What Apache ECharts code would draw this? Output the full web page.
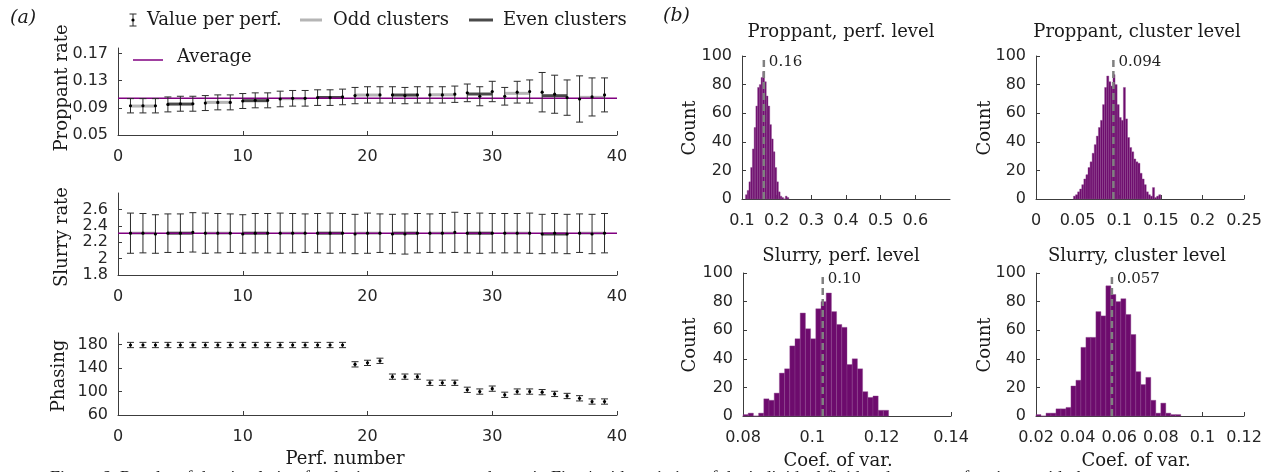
<!DOCTYPE html>
<html>
<head>
<meta charset="utf-8">
<script src="https://cdn.jsdelivr.net/npm/echarts@6/dist/echarts.min.js"></script>
<style>
  html, body { margin: 0; padding: 0; background: #fff; }
  #chart { width: 1268px; height: 472px; }
</style>
</head>
<body>
<div id="chart"></div>
<script>
// ---- (a) per-perforation values ----
const perfs = [1, 2, 3, 4, 5, 6, 7, 8, 9, 10, 11, 12, 13, 14, 15, 16, 17, 18, 19, 20,
  21, 22, 23, 24, 25, 26, 27, 28, 29, 30, 31, 32, 33, 34, 35, 36, 37, 38, 39];

const propVal = [0.093, 0.093, 0.093, 0.095, 0.096, 0.096, 0.097, 0.098, 0.098, 0.100,
  0.101, 0.101, 0.103, 0.104, 0.104, 0.105, 0.105, 0.106, 0.108, 0.109,
  0.109, 0.109, 0.108, 0.109, 0.109, 0.109, 0.110, 0.112, 0.107, 0.114,
  0.107, 0.113, 0.114, 0.113, 0.110, 0.105, 0.103, 0.106, 0.109];
const propErr = [0.0105, 0.0105, 0.0105, 0.011, 0.011, 0.011, 0.011, 0.011, 0.011, 0.011,
  0.011, 0.011, 0.0115, 0.0115, 0.0115, 0.0115, 0.0115, 0.0115, 0.012, 0.012,
  0.012, 0.012, 0.012, 0.012, 0.012, 0.012, 0.012, 0.013, 0.014, 0.015,
  0.013, 0.016, 0.017, 0.029, 0.028, 0.026, 0.034, 0.028, 0.025];
const propAvg = 0.104;

const slurryVal = [2.31, 2.31, 2.30, 2.31, 2.31, 2.32, 2.31, 2.31, 2.31, 2.30,
  2.31, 2.31, 2.31, 2.31, 2.31, 2.31, 2.31, 2.31, 2.30, 2.31,
  2.31, 2.30, 2.30, 2.31, 2.31, 2.31, 2.32, 2.31, 2.31, 2.31,
  2.31, 2.31, 2.31, 2.30, 2.31, 2.30, 2.31, 2.30, 2.31];
const slurryErr = [0.245, 0.24, 0.235, 0.235, 0.235, 0.24, 0.245, 0.24, 0.235, 0.235,
  0.24, 0.24, 0.245, 0.24, 0.235, 0.24, 0.245, 0.24, 0.24, 0.245,
  0.235, 0.24, 0.245, 0.24, 0.235, 0.24, 0.245, 0.24, 0.245, 0.24,
  0.24, 0.24, 0.245, 0.24, 0.24, 0.24, 0.235, 0.24, 0.24];
const slurryAvg = 2.31;

const phaseVal = [179.5, 179.5, 179.5, 179.5, 179.5, 179.5, 179.5, 179.5, 179.5, 179.5,
  179.5, 179.5, 179.5, 179.5, 179.5, 179.5, 179.5, 179.5, 146.5, 149,
  152.5, 125.5, 125.5, 125.5, 115, 115, 115, 103, 100, 105,
  94.5, 100, 100, 99, 96, 92.5, 88.5, 83, 83];
const phaseErr = [4.5, 4.5, 4.5, 4.5, 4.5, 4.5, 4.5, 4.5, 4.5, 4.5,
  4.5, 4.5, 4.5, 4.5, 4.5, 4.5, 4.5, 4.5, 4.5, 4.5,
  4.5, 4.5, 4.5, 4.5, 4.5, 4.5, 4.5, 4.5, 4.5, 4.5,
  4.5, 4.5, 4.5, 4.5, 4.5, 4.5, 4.5, 4.5, 4.5];

// clusters of three perforations
const clusterStart = [1, 4, 7, 10, 13, 16, 19, 22, 25, 28, 31, 34, 37];
const clusterEnd = [3, 6, 9, 12, 15, 18, 21, 24, 27, 30, 33, 36, 39];
const propCluster = [0.0926, 0.0955, 0.098, 0.1005, 0.1035, 0.1052, 0.1088, 0.1088, 0.1092, 0.1103, 0.1113, 0.1078, 0.1054];
const slurryCluster = [2.31, 2.31, 2.31, 2.31, 2.31, 2.31, 2.31, 2.31, 2.31, 2.31, 2.31, 2.30, 2.31];

const propTicks = [0.05, 0.09, 0.13, 0.17];
const slurryTicks = [1.8, 2, 2.2, 2.4, 2.6];
const phaseTicks = [60, 100, 140, 180];

// ---- (b) histograms of coef. of variation ----
const hist1Start = 0.110, hist1Width = 0.005;
const hist1Counts = [3, 6, 12, 22, 35, 50, 65, 78, 80, 85, 89, 82, 72, 65, 52, 42, 33, 22, 12, 5, 2, 1, 0, 2, 1];
const hist2Start = 0.045, hist2Width = 0.0025;
const hist2Counts = [2, 3, 5, 7, 10, 14, 17, 22, 26, 32, 38, 44, 50, 55, 66, 78, 86, 82, 79, 87,
  80, 66, 57, 55, 78, 56, 43, 36, 33, 28, 26, 25, 18, 14, 10, 5, 3, 2, 8, 1, 2, 3];
const hist3Start = 0.080, hist3Width = 0.0015;
const hist3Counts = [1, 2, 0, 2, 12, 11, 16, 30, 33, 49, 54, 72, 61, 54, 75, 80, 86,
  73, 64, 62, 36, 40, 33, 17, 13, 14, 4, 4];
const hist4Start = 0.020, hist4Width = 0.0024;
const hist4Counts = [1, 0, 2, 2, 5, 5, 6, 21, 25, 48, 55, 55, 73, 70, 91, 85, 80, 82, 71, 57,
  31, 22, 27, 11, 2, 9, 2, 1, 1];
const histMeans = [0.163, 0.093, 0.103, 0.0565];
const histMeanLabels = ['0.16', '0.094', '0.10', '0.057'];
const histTitles = ['Proppant, perf. level', 'Proppant, cluster level', 'Slurry, perf. level', 'Slurry, cluster level'];

const SERIF = '"DejaVu Serif", serif';
const SANS = '"DejaVu Sans", sans-serif';
const AXIS_COLOR = '#3c3c3c';
const PURPLE = '#800080';
const BAR_PURPLE = '#6d0b6d';
const TXT = '18px ' + SERIF;

function errorBarItem(params, api) {
  const x = api.value(0);
  const hi = api.coord([x, api.value(2)]);
  const lo = api.coord([x, api.value(3)]);
  const mid = api.coord([x, api.value(1)]);
  const cap = 3.5;
  const st = { stroke: '#2b2b2b', lineWidth: 1 };
  return {
    type: 'group',
    children: [
      { type: 'line', shape: { x1: hi[0], y1: hi[1], x2: lo[0], y2: lo[1] }, style: st },
      { type: 'line', shape: { x1: hi[0] - cap, y1: hi[1], x2: hi[0] + cap, y2: hi[1] }, style: st },
      { type: 'line', shape: { x1: lo[0] - cap, y1: lo[1], x2: lo[0] + cap, y2: lo[1] }, style: st },
      { type: 'circle', shape: { cx: mid[0], cy: mid[1], r: 1.6 }, style: { fill: '#000' } }
    ]
  };
}

function clusterItem(params, api) {
  const a = api.coord([api.value(0), api.value(2)]);
  const b = api.coord([api.value(1), api.value(2)]);
  return {
    type: 'line',
    shape: { x1: a[0], y1: a[1], x2: b[0], y2: b[1] },
    style: { stroke: api.value(3) ? '#4a4a4a' : '#b5b5b5', lineWidth: 3 }
  };
}

function histItem(params, api) {
  const p0 = api.coord([api.value(0), api.value(2)]);
  const p1 = api.coord([api.value(1), 0]);
  return {
    type: 'rect',
    shape: { x: p0[0], y: p0[1], width: p1[0] - p0[0], height: p1[1] - p0[1] },
    style: { fill: BAR_PURPLE, stroke: '#8f4a8f', lineWidth: 0.4 }
  };
}

function meanLineItem(label) {
  return function (params, api) {
    const p0 = api.coord([api.value(0), 0]);
    const p1 = api.coord([api.value(0), 100]);
    return {
      type: 'group',
      children: [
        { type: 'line', shape: { x1: p0[0], y1: p0[1], x2: p1[0], y2: p1[1] },
          style: { stroke: '#808080', lineWidth: 2.5, lineDash: [7, 4] } },
        { type: 'text', x: p1[0] + 5, y: p1[1] + 6,
          style: { text: label, font: '15px ' + SERIF, fill: '#222',
                   textAlign: 'left', textVerticalAlign: 'middle', align: 'left', verticalAlign: 'middle' } }
      ]
    };
  };
}

function errData(vals, errs) {
  return perfs.map((p, i) => [p, vals[i], vals[i] + errs[i], vals[i] - errs[i]]);
}
function clusterData(vals) {
  return clusterStart.map((s, i) => [s, clusterEnd[i], vals[i], i % 2]);
}
function histData(start, width, counts) {
  return counts.map((c, i) => [start + i * width, start + (i + 1) * width, c]);
}

function xAxisOf(gridIndex, min, max, interval, extraLabel) {
  return {
    type: 'value', gridIndex: gridIndex, min: min, max: max, interval: interval,
    splitLine: { show: false },
    axisLine: { show: true, onZero: false, lineStyle: { color: AXIS_COLOR, width: 1 } },
    axisTick: { show: true, inside: true, length: 4, lineStyle: { color: AXIS_COLOR } },
    axisLabel: Object.assign({ fontFamily: SANS, fontSize: 16, color: '#262626', margin: 14 }, extraLabel || {})
  };
}
function yAxisOf(gridIndex, min, max, ticks, interval) {
  const ax = {
    type: 'value', gridIndex: gridIndex, min: min, max: max,
    splitLine: { show: false },
    axisLine: { show: true, onZero: false, lineStyle: { color: AXIS_COLOR, width: 1 } },
    axisTick: { show: true, inside: true, length: 4, lineStyle: { color: AXIS_COLOR } },
    axisLabel: { fontFamily: SANS, fontSize: 16, color: '#262626', margin: 10 }
  };
  if (ticks) {
    ax.axisLabel.customValues = ticks;
    ax.axisTick.customValues = ticks;
  } else {
    ax.interval = interval;
  }
  return ax;
}

function txt(x, y, text, font, extra) {
  return Object.assign({
    type: 'text', x: x, y: y, silent: true,
    style: { text: text, font: font, fill: '#1a1a1a',
             textAlign: 'center', textVerticalAlign: 'middle', align: 'center', verticalAlign: 'middle' }
  }, extra || {});
}
function rtxt(x, y, text) {
  return txt(x, y, text, TXT, { rotation: Math.PI / 2 });
}
function ltxt(x, y, text, font) {
  const t = txt(x, y, text, font);
  t.style.textAlign = 'left';
  t.style.align = 'left';
  return t;
}
function seg(x1, y1, x2, y2, color, w) {
  return { type: 'line', silent: true, shape: { x1: x1, y1: y1, x2: x2, y2: y2 }, style: { stroke: color, lineWidth: w } };
}

const chart = echarts.init(document.getElementById('chart'));

const option = {
  animation: false,
  backgroundColor: '#fff',
  grid: [
    { left: 118, top: 48, width: 499, height: 87 },
    { left: 118, top: 193, width: 499, height: 82 },
    { left: 118, top: 333, width: 499, height: 82 },
    { left: 742, top: 56, width: 208, height: 143 },
    { left: 1036, top: 56, width: 208, height: 143 },
    { left: 743, top: 273, width: 208, height: 143 },
    { left: 1036, top: 273, width: 208, height: 143 }
  ],
  xAxis: [
    xAxisOf(0, 0, 40, 10),
    xAxisOf(1, 0, 40, 10),
    xAxisOf(2, 0, 40, 10),
    xAxisOf(3, 0.1, 0.7, 0.1, { showMaxLabel: false }),
    xAxisOf(4, 0, 0.25, 0.05),
    xAxisOf(5, 0.08, 0.14, 0.02),
    xAxisOf(6, 0.02, 0.12, 0.02)
  ],
  yAxis: [
    yAxisOf(0, 0.05, 0.178, propTicks),
    yAxisOf(1, 1.8, 2.8, slurryTicks),
    yAxisOf(2, 60, 200, phaseTicks),
    yAxisOf(3, 0, 100, null, 20),
    yAxisOf(4, 0, 100, null, 20),
    yAxisOf(5, 0, 100, null, 20),
    yAxisOf(6, 0, 100, null, 20)
  ],
  series: [
    { type: 'custom', xAxisIndex: 0, yAxisIndex: 0, renderItem: clusterItem,
      encode: { x: [0, 1], y: 2 }, data: clusterData(propCluster), z: 2 },
    { type: 'custom', xAxisIndex: 1, yAxisIndex: 1, renderItem: clusterItem,
      encode: { x: [0, 1], y: 2 }, data: clusterData(slurryCluster), z: 2 },
    { type: 'line', xAxisIndex: 0, yAxisIndex: 0, symbol: 'none', z: 3,
      lineStyle: { color: PURPLE, width: 1.5 }, data: [[0, propAvg], [40, propAvg]] },
    { type: 'line', xAxisIndex: 1, yAxisIndex: 1, symbol: 'none', z: 3,
      lineStyle: { color: PURPLE, width: 1.5 }, data: [[0, slurryAvg], [40, slurryAvg]] },
    { type: 'custom', xAxisIndex: 0, yAxisIndex: 0, renderItem: errorBarItem,
      encode: { x: 0, y: [1, 2, 3] }, data: errData(propVal, propErr), z: 4 },
    { type: 'custom', xAxisIndex: 1, yAxisIndex: 1, renderItem: errorBarItem,
      encode: { x: 0, y: [1, 2, 3] }, data: errData(slurryVal, slurryErr), z: 4 },
    { type: 'custom', xAxisIndex: 2, yAxisIndex: 2, renderItem: errorBarItem,
      encode: { x: 0, y: [1, 2, 3] }, data: errData(phaseVal, phaseErr), z: 4 },

    { type: 'custom', xAxisIndex: 3, yAxisIndex: 3, renderItem: histItem,
      encode: { x: [0, 1], y: 2 }, data: histData(hist1Start, hist1Width, hist1Counts) },
    { type: 'custom', xAxisIndex: 4, yAxisIndex: 4, renderItem: histItem,
      encode: { x: [0, 1], y: 2 }, data: histData(hist2Start, hist2Width, hist2Counts) },
    { type: 'custom', xAxisIndex: 5, yAxisIndex: 5, renderItem: histItem,
      encode: { x: [0, 1], y: 2 }, data: histData(hist3Start, hist3Width, hist3Counts) },
    { type: 'custom', xAxisIndex: 6, yAxisIndex: 6, renderItem: histItem,
      encode: { x: [0, 1], y: 2 }, data: histData(hist4Start, hist4Width, hist4Counts) },

    { type: 'custom', xAxisIndex: 3, yAxisIndex: 3, renderItem: meanLineItem(histMeanLabels[0]),
      encode: { x: 0 }, data: [[histMeans[0]]], z: 5 },
    { type: 'custom', xAxisIndex: 4, yAxisIndex: 4, renderItem: meanLineItem(histMeanLabels[1]),
      encode: { x: 0 }, data: [[histMeans[1]]], z: 5 },
    { type: 'custom', xAxisIndex: 5, yAxisIndex: 5, renderItem: meanLineItem(histMeanLabels[2]),
      encode: { x: 0 }, data: [[histMeans[2]]], z: 5 },
    { type: 'custom', xAxisIndex: 6, yAxisIndex: 6, renderItem: meanLineItem(histMeanLabels[3]),
      encode: { x: 0 }, data: [[histMeans[3]]], z: 5 }
  ],
  graphic: [
    ltxt(10, 18, '(a)', 'italic 19px ' + SERIF),
    ltxt(663, 16, '(b)', 'italic 19px ' + SERIF),

    // legend row
    seg(133, 14, 133, 26, '#2b2b2b', 1),
    seg(129.5, 14, 136.5, 14, '#2b2b2b', 1),
    seg(129.5, 26, 136.5, 26, '#2b2b2b', 1),
    { type: 'circle', silent: true, shape: { cx: 133, cy: 20, r: 1.6 }, style: { fill: '#000' } },
    ltxt(147, 20, 'Value per perf.', TXT),
    seg(300, 20, 322, 20, '#b5b5b5', 3),
    ltxt(333, 20, 'Odd clusters', TXT),
    seg(469, 20, 493, 20, '#4a4a4a', 3),
    ltxt(503, 20, 'Even clusters', TXT),
    seg(133, 60, 163, 60, PURPLE, 1.5),
    ltxt(177, 57, 'Average', TXT),

    // axis names
    rtxt(62, 88, 'Proppant rate'),
    rtxt(62, 237, 'Slurry rate'),
    rtxt(59, 376, 'Phasing'),
    txt(345, 459, 'Perf. number', TXT),
    rtxt(690, 128, 'Count'),
    rtxt(985, 128, 'Count'),
    rtxt(690, 345, 'Count'),
    rtxt(985, 345, 'Count'),
    txt(838, 461, 'Coef. of var.', TXT),
    txt(1136, 461, 'Coef. of var.', TXT),

    // histogram titles
    txt(841, 32, histTitles[0], TXT),
    txt(1137, 32, histTitles[1], TXT),
    txt(841, 256, histTitles[2], TXT),
    txt(1137, 256, histTitles[3], TXT),

    // figure caption (cut by the bottom edge)
    ltxt(50, 479, 'Figure 6: Results of the simulation for the input parameters shown in Fig. 4 with variation of the individual fluid and proppant fractions, with the',
      '18px "Liberation Serif", serif')
  ]
};

chart.setOption(option);
</script>
</body>
</html>
